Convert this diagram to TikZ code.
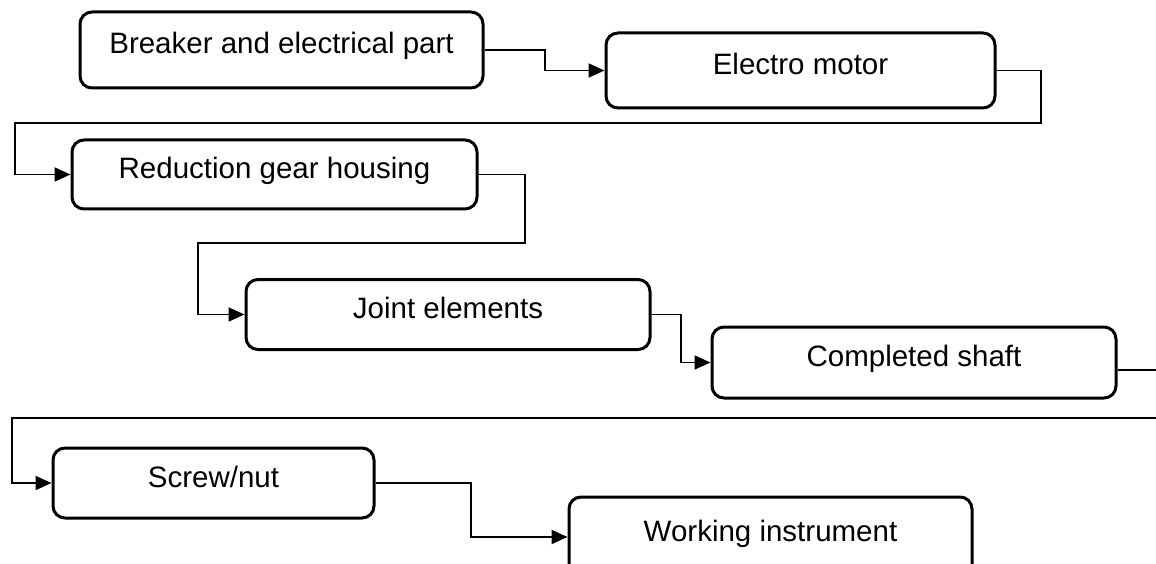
\documentclass[tikz,border=0pt]{standalone}
\usepackage{fontspec}
\setmainfont{Liberation Sans}
\usetikzlibrary{arrows.meta}
\begin{document}
\begin{tikzpicture}[x=1pt,y=-1pt,
  box/.style={draw=black, line width=3pt, rounded corners=12pt, inner sep=0pt,
    font=\fontsize{29.5}{35}\selectfont, text height=20pt, text depth=12pt},
  conn/.style={draw=black, line width=1.9pt},
  arr/.style={conn, -{Triangle[length=16pt,width=14pt]}}]
\useasboundingbox (0,0) rectangle (1156,564);
\node[box, minimum width=403pt, minimum height=76pt] (b1) at (281.5,50) {Breaker and electrical part};
\node[box, minimum width=389pt, minimum height=75pt] (b2) at (800.5,70.5) {Electro motor};
\node[box, minimum width=405pt, minimum height=69pt] (b3) at (274.5,174.5) {Reduction gear housing};
\node[box, minimum width=404pt, minimum height=70pt] (b4) at (448,314.5) {Joint elements};
\node[box, minimum width=404pt, minimum height=71pt] (b5) at (914,362.5) {Completed shaft};
\node[box, minimum width=321pt, minimum height=70pt] (b6) at (213.5,483) {Screw/nut};
\node[box, minimum width=403pt, minimum height=80pt] (b7) at (770.5,537) {Working instrument};
\coordinate (k1) at (545,60);
\coordinate (k2a) at (1041,123);
\coordinate (k2b) at (15,123);
\coordinate (k3a) at (525,243);
\coordinate (k3b) at (198,243);
\coordinate (k4) at (681,340);
\coordinate (k5a) at (1162,418);
\coordinate (k5b) at (12,418);
\coordinate (k6) at (471,510);
\draw[arr] (b1.east) -| (k1) |- (b2.west);
\draw[arr] (b2.east) -| (k2a) -- (k2b) |- (b3.west);
\draw[arr] (b3.east) -| (k3a) -- (k3b) |- (b4.west);
\draw[arr] (b4.east) -| (k4) |- (b5.west);
\draw[arr] ([yshift=-7.5pt]b5.east) -| (k5a) -- (k5b) |- (b6.west);
\draw[arr] (b6.east) -| (k6) |- (b7.west);
\end{tikzpicture}
\end{document}
